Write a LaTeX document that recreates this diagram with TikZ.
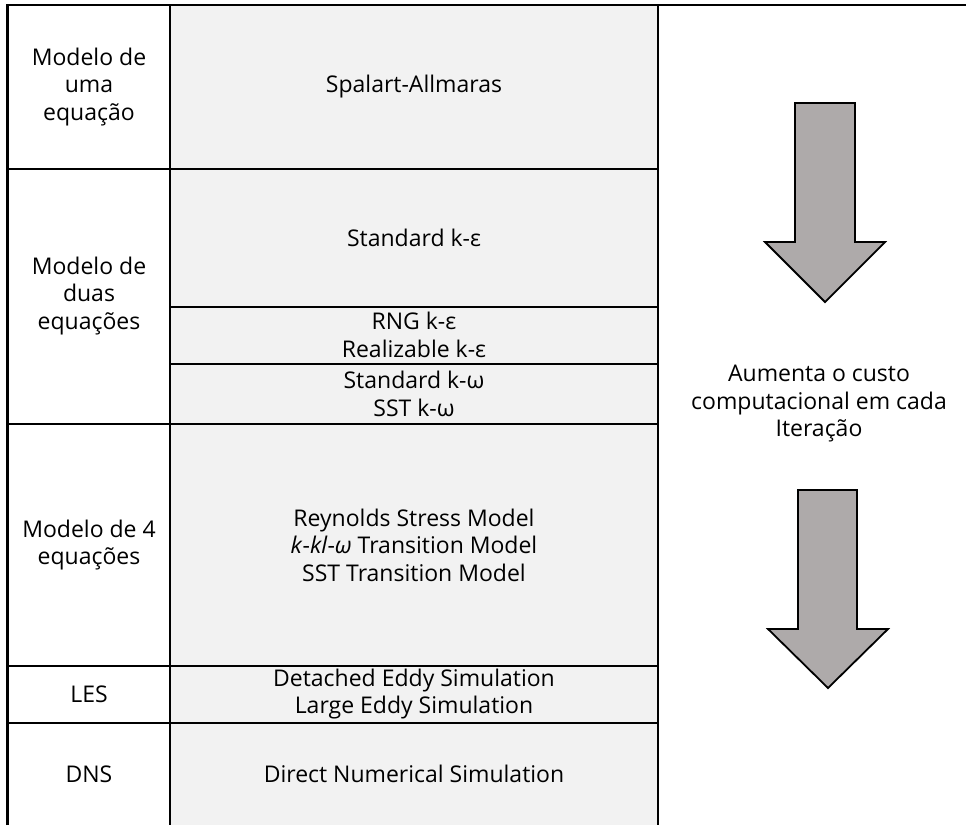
\documentclass[tikz,border=0pt]{standalone}
\usepackage{fontspec}
\setmainfont{Open Sans}
\usepackage{tikz}

\definecolor{cellgray}{HTML}{F2F2F2}
\definecolor{arrowgray}{HTML}{AEAAAA}

\tikzset{
  cell/.style={align=center, inner sep=0pt, font=\fontsize{11.5}{13.75}\selectfont},
  rule/.style={line width=1.35pt},
  costarrow/.style={draw=black, line width=0.9pt, fill=arrowgray, line join=miter}
}

\begin{document}
\begin{tikzpicture}[x=0.5pt,y=-0.5pt]
\useasboundingbox (0,0) rectangle (967,825);
%\draw (0,0) grid (967,825);

\fill [cellgray] (170,5) rectangle (658,825);

\draw [rule] (7.5,825) -- (7.5,5) -- (966,5);
\draw [rule] (170,5) -- (170,825); \draw [rule] (658,5) -- (658,825);
\draw [rule] (7.5,169) -- (658,169); \draw [rule] (170,307) -- (658,307); \draw [rule] (170,364) -- (658,364);
\draw [rule] (7.5,424) -- (658,424); \draw [rule] (7.5,666) -- (658,666); \draw [rule] (7.5,723) -- (658,723);

\node [cell] (uma) at (89,87) {Modelo de\\uma\\equação};
\node [cell] (duas) at (89,296) {Modelo de\\duas\\equações};
\node [cell] (quatro) at (89,545) {Modelo de 4\\equações};
\node [cell] (les) at (89,694) {LES};
\node [cell] (dns) at (89,774) {DNS};

\node [cell] (sa) at (414,87) {Spalart-Allmaras};
\node [cell] (ke) at (414,238) {Standard k-ε};
\node [cell] (rng) at (414,335) {RNG k-ε\\Realizable k-ε};
\node [cell] (kw) at (414,394) {Standard k-ω\\SST k-ω};
\node [cell] (rsm) at (414,545) {Reynolds Stress Model\\\textit{k}-\textit{kl}-\textit{ω} Transition Model\\SST Transition Model};
\node [cell] (des) at (414,694) {Detached Eddy Simulation\\Large Eddy Simulation};
\node [cell] (dnsim) at (414,774) {Direct Numerical Simulation};

\draw [costarrow] (795,103) -- (855,103) -- (855,242) -- (885,242) -- (825,302) -- (765,242) -- (795,242) -- cycle;
\node [cell] (custo) at (819,404) {Aumenta o custo\\computacional em cada\\Iteração};
\draw [costarrow] (798,490) -- (857,490) -- (857,629) -- (888,629) -- (828,688) -- (768,629) -- (798,629) -- cycle;
\end{tikzpicture}
\end{document}
